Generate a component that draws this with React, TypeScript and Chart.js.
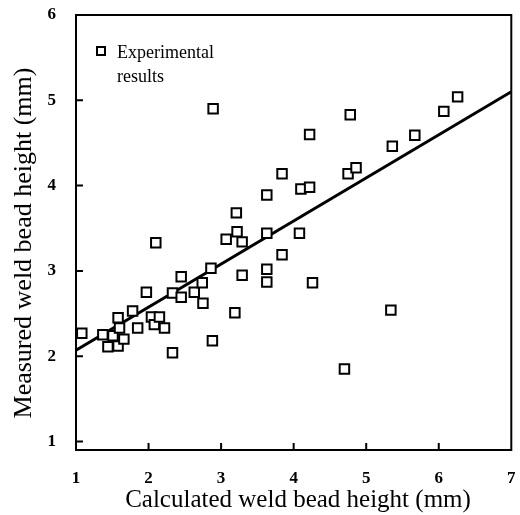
import React, { useEffect, useRef } from 'react';
import { Chart, registerables } from 'chart.js';

Chart.register(...registerables);

// Data
const calcX = [
  1.08, 1.37, 1.44, 1.51, 1.58, 1.58, 1.60, 1.66, 1.78, 1.85,
  1.97, 2.04, 2.08, 2.15, 2.22, 2.10, 2.33, 2.33, 2.45, 2.45,
  2.63, 2.74, 2.75, 2.86, 2.88, 2.89, 3.07, 3.19, 3.21, 3.22,
  3.29, 3.29, 3.63, 3.63, 3.63, 3.63, 3.84, 3.84, 4.08, 4.10,
  4.22, 4.22, 4.26, 4.70, 4.75, 4.78, 4.86, 5.34, 5.36, 5.67,
  6.07, 6.26,
];
const measY = [
  2.27, 2.25, 2.11, 2.24, 2.45, 2.12, 2.33, 2.20, 2.53, 2.33,
  2.75, 2.46, 2.37, 2.46, 2.33, 3.33, 2.74, 2.04, 2.93, 2.69,
  2.75, 2.86, 2.62, 3.03, 2.18, 4.90, 3.37, 2.51, 3.68, 3.46,
  3.34, 2.95, 3.89, 3.44, 3.02, 2.87, 4.14, 3.19, 3.44, 3.96,
  3.98, 4.60, 2.86, 1.85, 4.14, 4.83, 4.21, 2.54, 4.46, 4.59,
  4.87, 5.04,
];
const fitX = [1, 7];
const fitY = [2.07, 5.1];
const xTicks = [1, 2, 3, 4, 5, 6, 7];
const yTicks = [1, 2, 3, 4, 5, 6];
const xInnerTicks = [2, 3, 4, 5, 6];
const yInnerTicks = [1, 2, 3, 4, 5];
const xTitle = 'Calculated weld bead height (mm)';
const yTitle = 'Measured weld bead height (mm)';
const legendLines = ['Experimental', 'results'];

const SERIF = '"Liberation Serif", "Times New Roman", serif';

export default function App() {
  const canvasRef = useRef<HTMLCanvasElement | null>(null);

  useEffect(() => {
    document.body.style.margin = '0';
    const canvas = canvasRef.current;
    if (!canvas) return;

    const decor = {
      id: 'decor',
      afterDraw(chart: any) {
        const ctx = chart.ctx;
        const a = chart.chartArea;
        const xs = chart.scales.x;
        const ys = chart.scales.y;
        ctx.save();
        ctx.strokeStyle = '#000';
        ctx.lineWidth = 2;
        ctx.strokeRect(a.left, a.top, a.right - a.left, a.bottom - a.top);
        ctx.beginPath();
        xInnerTicks.forEach((v) => {
          const px = xs.getPixelForValue(v);
          ctx.moveTo(px, a.bottom);
          ctx.lineTo(px, a.bottom - 7);
        });
        yInnerTicks.forEach((v) => {
          const py = ys.getPixelForValue(v);
          ctx.moveTo(a.left, py);
          ctx.lineTo(a.left + 7, py);
        });
        ctx.stroke();

        // legend
        ctx.lineWidth = 2;
        ctx.strokeRect(a.left + 21, a.top + 32, 8, 8);
        ctx.fillStyle = '#000';
        ctx.font = '18px ' + SERIF;
        ctx.textAlign = 'left';
        ctx.textBaseline = 'alphabetic';
        ctx.fillText(legendLines[0], a.left + 41, a.top + 43);
        ctx.fillText(legendLines[1], a.left + 41, a.top + 67);

        // axis titles
        ctx.font = '25px ' + SERIF;
        ctx.textAlign = 'center';
        ctx.textBaseline = 'alphabetic';
        ctx.fillText(xTitle, 298, 507);
        ctx.save();
        ctx.font = '26px ' + SERIF;
        ctx.translate(31, 243);
        ctx.rotate(-Math.PI / 2);
        ctx.fillText(yTitle, 0, 0);
        ctx.restore();
        ctx.restore();
      },
    };

    const chart = new Chart(canvas, {
      type: 'scatter',
      data: {
        datasets: [
          {
            label: 'Experimental results',
            data: calcX.map((x, i) => ({ x, y: measY[i] })),
            pointStyle: 'rect',
            pointRadius: 6.7,
            borderWidth: 2,
            borderColor: '#000',
            backgroundColor: '#fff',
            showLine: false,
          },
          {
            label: 'Fit',
            type: 'line',
            data: fitX.map((x, i) => ({ x, y: fitY[i] })),
            borderColor: '#000',
            borderWidth: 3,
            pointRadius: 0,
            showLine: true,
            fill: false,
          } as any,
        ],
      },
      options: {
        responsive: false,
        animation: false,
        layout: { padding: { top: 15, right: 5, left: 0, bottom: 0 } },
        plugins: {
          legend: { display: false },
          tooltip: { enabled: false },
        },
        scales: {
          x: {
            type: 'linear',
            min: 1,
            max: 7,
            grid: { display: false },
            border: { display: false },
            afterBuildTicks: (s: any) => {
              s.ticks = xTicks.map((v) => ({ value: v }));
            },
            afterFit: (s: any) => {
              s.height = 65;
              s.paddingLeft = 0;
              s.paddingRight = 0;
            },
            ticks: {
              color: '#000',
              padding: 10,
              maxRotation: 0,
              autoSkip: false,
              font: { family: SERIF, size: 17, weight: 'bold' },
            },
          },
          y: {
            type: 'linear',
            min: 0.9,
            max: 6,
            grid: { display: false },
            border: { display: false },
            afterBuildTicks: (s: any) => {
              s.ticks = yTicks.map((v) => ({ value: v }));
            },
            afterFit: (s: any) => {
              s.width = 76;
              s.paddingTop = 0;
              s.paddingBottom = 0;
            },
            ticks: {
              color: '#000',
              padding: 12,
              autoSkip: false,
              font: { family: SERIF, size: 17, weight: 'bold' },
            },
          },
        },
      },
      plugins: [decor],
    });

    return () => chart.destroy();
  }, []);

  return (
    <div style={{ width: 520, height: 515, background: '#fff' }}>
      <canvas ref={canvasRef} width={520} height={515} />
    </div>
  );
}
